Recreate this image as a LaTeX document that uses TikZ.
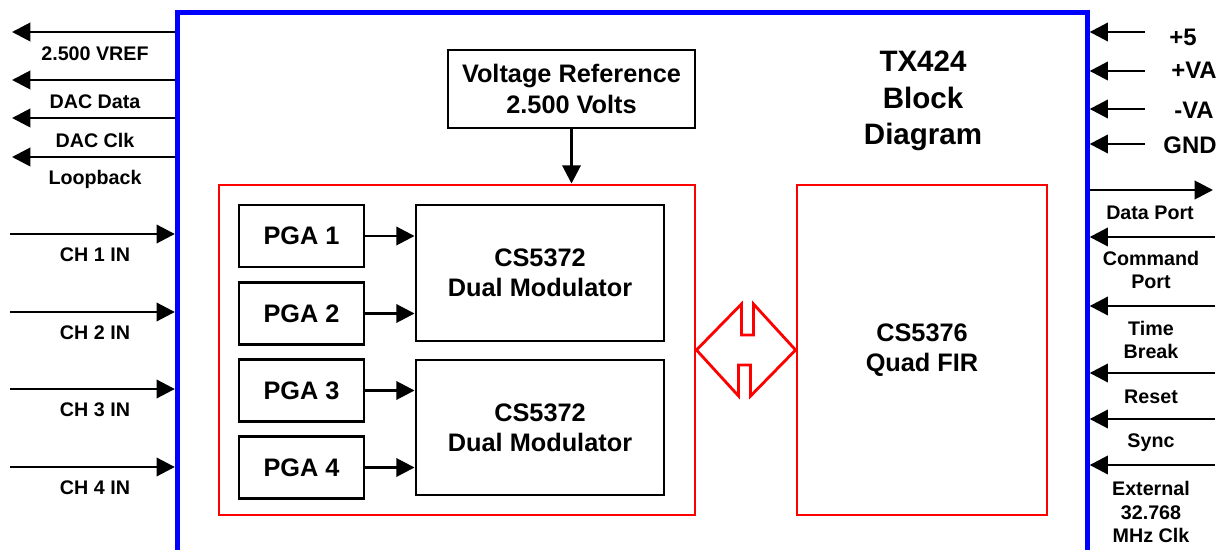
\documentclass[tikz,border=0pt]{standalone}
\usepackage{fontspec}
\setmainfont{Liberation Sans}
\usetikzlibrary{
arrows.meta,
positioning,
calc
}

\begin{document}
\begin{tikzpicture}[
x=0.025cm,y=-0.025cm,
box/.style={
draw,
line width=2pt,
inner sep=0pt,
align=center,
font=\bfseries\fontsize{18}{21.5}\selectfont
},
redbox/.style={draw=red,line width=2pt,inner sep=0pt},
arrow/.style={-{Triangle[length=13pt,width=13pt]},line width=2pt},
sig/.style={align=center,font=\bfseries\fontsize{14}{17}\selectfont},
pwr/.style={font=\bfseries\fontsize{17}{20}\selectfont},
title/.style={align=center,font=\bfseries\fontsize{21}{26}\selectfont}
]
\useasboundingbox (0,0) rectangle (1223,550);

% outer board
\node[draw=blue,line width=3.6pt,minimum width=22.7375cm,minimum height=14.6875cm,inner sep=0pt] (tx) at (632.25,306) {};

\node[title] (title) at (923,101) {TX424\\Block\\Diagram};

\node[box,minimum width=6.175cm,minimum height=1.95cm] (vref) at (571.5,89) {Voltage Reference\\2.500 Volts};

\node[redbox,minimum width=11.9cm,minimum height=8.25cm] (front) at (457,350) {};
\node[redbox,minimum width=6.25cm,minimum height=8.25cm,align=center,
font=\bfseries\fontsize{18}{21.5}\selectfont] (fir) at (922,350) {CS5376\\Quad FIR};

\foreach \i/\y in {1/236,2/313.5,3/390.5,4/467.5}
  \node[box,minimum width=3.125cm,minimum height=1.55cm] (pga\i) at (301.5,\y) {PGA \i};

\node[box,minimum width=6.2cm,minimum height=3.4cm] (mod1) at (540,273) {CS5372\\Dual Modulator};
\node[box,minimum width=6.2cm,minimum height=3.375cm] (mod2) at (540,427.5) {CS5372\\Dual Modulator};

\draw[arrow] (vref.south) -- (vref.south |- front.north);
\draw[arrow] (pga1.east) -- (pga1.east -| mod1.west);
\draw[arrow] (pga2.east) -- (pga2.east -| mod1.west);
\draw[arrow] (pga3.east) -- (pga3.east -| mod2.west);
\draw[arrow] (pga4.east) -- (pga4.east -| mod2.west);

% bus between modulators and FIR
\draw[red,line width=2pt,line join=miter] (front.east) -- ++(45,-46) -- ++(0,31) -- ++(12,0) -- ++(0,-31)
  -- (fir.west) -- ++(-45,46) -- ++(0,-31) -- ++(-12,0) -- ++(0,31) -- cycle;

% left side outputs
\foreach \name/\y/\txt in {vrefout/32/2.500 VREF,dacdata/80/DAC Data,dacclk/118/DAC Clk,loopback/157/Loopback}{
  \coordinate (\name) at (12,\y);
  \draw[arrow] (\name -| tx.west) -- (\name);
  \node[sig] (\name-lbl) at (95,\y+22) {\txt};
}

% channel inputs
\foreach \i/\y in {1/234,2/312,3/389,4/467}{
  \coordinate (ch\i) at (10,\y);
  \draw[arrow] (ch\i) -- (ch\i -| tx.west);
  \node[sig] (ch\i-lbl) at (95,\y+21) {CH \i\ IN};
}

% power
\foreach \name/\y/\lx/\ly/\txt in {p5/32/1183/37/+5,pva/71/1194/70/+VA,nva/109/1194/110/-VA,gnd/144/1190/145/GND}{
  \coordinate (\name) at (1145,\y);
  \draw[arrow] (\name) -- (\name -| tx.east);
  \node[pwr] (\name-lbl) at (\lx,\ly) {\txt};
}

% right side ports
\coordinate (dport) at (1213,190);
\draw[arrow] (dport -| tx.east) -- (dport);
\node[sig] (dport-lbl) at (1150,213) {Data Port};

\foreach \name/\y/\ly/\txt in {cmd/237/270/{Command\\Port},tbrk/306/340/{Time\\Break},reset/373/397/Reset,sync/419/443/Sync,extclk/465/512/{External\\32.768\\MHz Clk}}{
  \coordinate (\name) at (1215,\y);
  \draw[arrow] (\name) -- (\name -| tx.east);
  \node[sig] (\name-lbl) at (1151,\ly) {\txt};
}

\end{tikzpicture}
\end{document}
